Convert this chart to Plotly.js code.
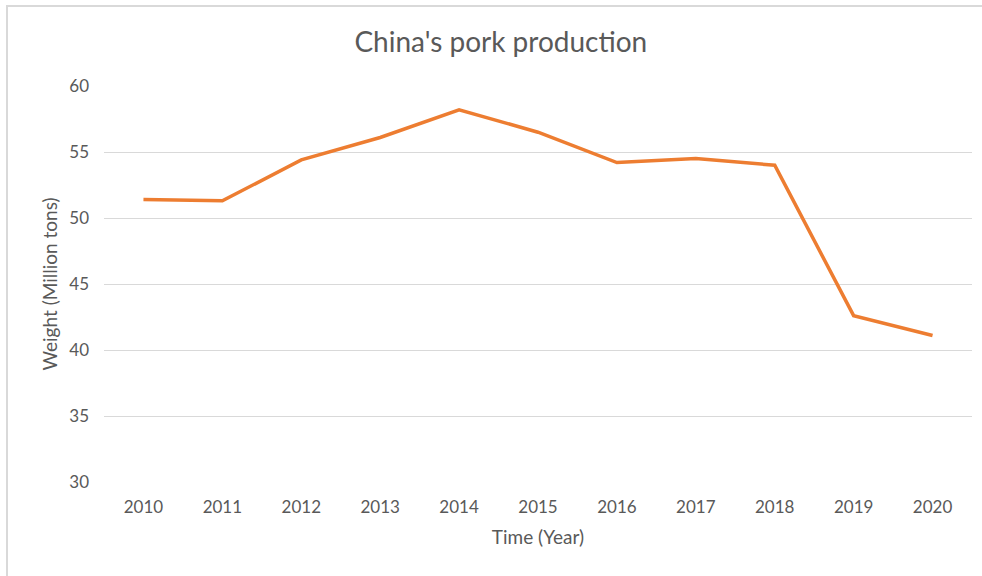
<!DOCTYPE html>
<html>
<head>
<meta charset="utf-8">
<script src="https://cdn.plot.ly/plotly-3.0.1.min.js"></script>
<style>
  html, body { margin: 0; padding: 0; background: #fff; }
  #chart { width: 982px; height: 576px; position: relative; }
  #frame { position: absolute; left: 6px; top: 5px; width: 980px; height: 580px;
           border-top: 2px solid #d9d9d9; border-left: 2px solid #d9d9d9; pointer-events: none; }
</style>
</head>
<body>
<div id="chart"></div>
<div id="frame"></div>
<script>
const years = ['2010','2011','2012','2013','2014','2015','2016','2017','2018','2019','2020'];
const production = [51.4, 51.3, 54.4, 56.1, 58.2, 56.5, 54.2, 54.5, 54.0, 42.6, 41.1];
const yTicks = [30, 35, 40, 45, 50, 55, 60];

const font = 'Lato, "Open Sans", sans-serif';
const trace = {
  x: years, y: production, type: 'scatter', mode: 'lines',
  line: { color: '#ED7D31', width: 3.5 },
  hoverinfo: 'skip'
};
const layout = {
  width: 982, height: 576,
  margin: { l: 104, r: 10, t: 86, b: 94 },
  paper_bgcolor: '#ffffff', plot_bgcolor: '#ffffff',
  showlegend: false,
  font: { family: font, color: '#595959', size: 17 },
  title: { text: "China's pork production", font: { family: font, size: 28, color: '#595959' },
           xref: 'container', x: 0.51, xanchor: 'center', y: 0.927, yanchor: 'middle' },
  xaxis: {
    type: 'category', range: [-0.5, 10.5], showgrid: false, zeroline: false, showline: false,
    ticks: '', ticklabelstandoff: 13, tickfont: { size: 17, color: '#595959' },
    title: { text: 'Time (Year)', font: { size: 19, color: '#595959' }, standoff: 14 }
  },
  yaxis: {
    range: [30, 60], tickvals: yTicks, ticktext: yTicks.map(String),
    showgrid: true, gridcolor: '#d9d9d9', gridwidth: 1, zeroline: false, showline: false,
    ticks: '', ticklabelstandoff: 14, tickfont: { size: 17, color: '#595959' },
    title: { text: 'Weight (Million tons)', font: { size: 19, color: '#595959' }, standoff: 6 }
  }
};
Plotly.newPlot('chart', [trace], layout, { displayModeBar: false, staticPlot: true });
</script>
</body>
</html>
